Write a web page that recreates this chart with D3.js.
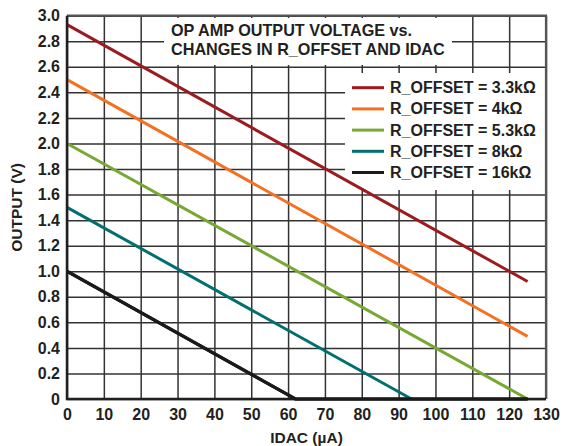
<!DOCTYPE html>
<html>
<head>
<meta charset="utf-8">
<script src="https://cdn.jsdelivr.net/npm/d3@7"></script>
<style>
  html, body { margin: 0; padding: 0; background: #fff; }
  svg { display: block; }
  text { font-family: "Liberation Sans", Arial, sans-serif; font-weight: bold; fill: #231f20; }
</style>
</head>
<body>
<svg id="chart" width="565" height="446"></svg>
<script>
// ---- Data ----
const xTicks = [0, 10, 20, 30, 40, 50, 60, 70, 80, 90, 100, 110, 120, 130];
const yTicks = [0, 0.2, 0.4, 0.6, 0.8, 1.0, 1.2, 1.4, 1.6, 1.8, 2.0, 2.2, 2.4, 2.6, 2.8, 3.0];
const yTickLabels = ["0", "0.2", "0.4", "0.6", "0.8", "1.0", "1.2", "1.4", "1.6", "1.8", "2.0", "2.2", "2.4", "2.6", "2.8", "3.0"];
const seriesNames = ["R_OFFSET = 3.3kΩ", "R_OFFSET = 4kΩ", "R_OFFSET = 5.3kΩ", "R_OFFSET = 8kΩ", "R_OFFSET = 16kΩ"];
const seriesColors = ["#9b1b1f", "#f47022", "#76a832", "#00706f", "#1a1a1a"];
const idac33 = [0, 125];
const out33 = [2.93, 0.92];
const idac4 = [0, 125];
const out4 = [2.50, 0.49];
const idac53 = [0, 125];
const out53 = [2.00, 0.00];
const idac8 = [0, 93.5];
const out8 = [1.50, 0.00];
const idac16 = [0, 62, 125];
const out16 = [1.00, 0.00, 0.00];
const titleLines = ["OP AMP OUTPUT VOLTAGE vs.", "CHANGES IN R_OFFSET AND IDAC"];
const xTitle = "IDAC (µA)";
const yTitle = "OUTPUT (V)";

const seriesX = [idac33, idac4, idac53, idac8, idac16];
const seriesY = [out33, out4, out53, out8, out16];

// ---- Layout ----
const L = 67, R = 546, T = 15.7, B = 399;
const svg = d3.select("#chart");
svg.append("rect").attr("width", 565).attr("height", 446).attr("fill", "#fff");

const x = d3.scaleLinear().domain([0, 130]).range([L, R]);
const y = d3.scaleLinear().domain([0, 3]).range([B, T]);

// Gridlines
const grid = svg.append("g");
grid.append("g").attr("transform", `translate(0,${B})`)
  .call(d3.axisBottom(x).tickValues(xTicks).tickSize(-(B - T)).tickFormat(""))
  .call(g => g.select(".domain").remove())
  .call(g => g.selectAll("line").attr("stroke", "#333").attr("stroke-width", 1.5));
grid.append("g").attr("transform", `translate(${L},0)`)
  .call(d3.axisLeft(y).tickValues(yTicks).tickSize(-(R - L)).tickFormat(""))
  .call(g => g.select(".domain").remove())
  .call(g => g.selectAll("line").attr("stroke", "#333").attr("stroke-width", 1.5));

// Title box and legend box (white, hide grid)
svg.append("rect").attr("x", 164).attr("y", 18).attr("width", 288).attr("height", 47).attr("fill", "#fff");
svg.append("rect").attr("x", 345).attr("y", 73).attr("width", R - 345).attr("height", 117).attr("fill", "#fff");

// Frame top/right (grey)
svg.append("path")
  .attr("d", `M${L},${T}H${R}V${B}`)
  .attr("fill", "none").attr("stroke", "#555").attr("stroke-width", 2.2);

// Data lines
const line = d3.line().x(d => x(d[0])).y(d => y(d[1]));
seriesX.forEach((xs, i) => {
  const pts = xs.map((v, j) => [v, seriesY[i][j]]);
  svg.append("path").datum(pts)
    .attr("d", line)
    .attr("fill", "none")
    .attr("stroke", seriesColors[i])
    .attr("stroke-width", 3);
});

// Left & bottom axes (black, thick)
svg.append("path")
  .attr("d", `M${L},${T}V${B}H${R}`)
  .attr("fill", "none").attr("stroke", "#231f20").attr("stroke-width", 2.5);
// re-draw black series bottom over axis
{
  const pts = idac16.map((v, j) => [v, out16[j]]);
  svg.append("path").datum(pts).attr("d", line).attr("fill", "none")
    .attr("stroke", seriesColors[4]).attr("stroke-width", 3.2);
}

// Tick labels
const xa = svg.append("g").attr("transform", `translate(0,${B})`)
  .call(d3.axisBottom(x).tickValues(xTicks).tickSize(0).tickPadding(9.5).tickFormat(d3.format("d")));
xa.select(".domain").remove();
xa.selectAll("text").attr("font-size", 16).attr("font-family", null).attr("fill", "#231f20");

const ya = svg.append("g").attr("transform", `translate(${L},0)`)
  .call(d3.axisLeft(y).tickValues(yTicks).tickSize(0).tickPadding(7).tickFormat((d, i) => yTickLabels[i]));
ya.select(".domain").remove();
ya.selectAll("text").attr("font-size", 16).attr("font-family", null).attr("fill", "#231f20");

// Axis titles
svg.append("text").attr("x", (L + R) / 2).attr("y", 443).attr("text-anchor", "middle")
  .attr("font-size", 15.5).text(xTitle);
svg.append("text").attr("transform", `translate(22,${(T + B) / 2}) rotate(-90)`)
  .attr("text-anchor", "middle").attr("font-size", 15.5).text(yTitle);

// Chart title
titleLines.forEach((t, i) => {
  svg.append("text").attr("x", 171).attr("y", 36 + i * 19).attr("font-size", 16.2).text(t);
});

// Legend
seriesNames.forEach((n, i) => {
  const cy = 87.7 + i * 21.2;
  svg.append("line").attr("x1", 352).attr("x2", 384).attr("y1", cy).attr("y2", cy)
    .attr("stroke", seriesColors[i]).attr("stroke-width", 3);
  svg.append("text").attr("x", 390).attr("y", cy + 5.5).attr("font-size", 16).text(n);
});
</script>
</body>
</html>
